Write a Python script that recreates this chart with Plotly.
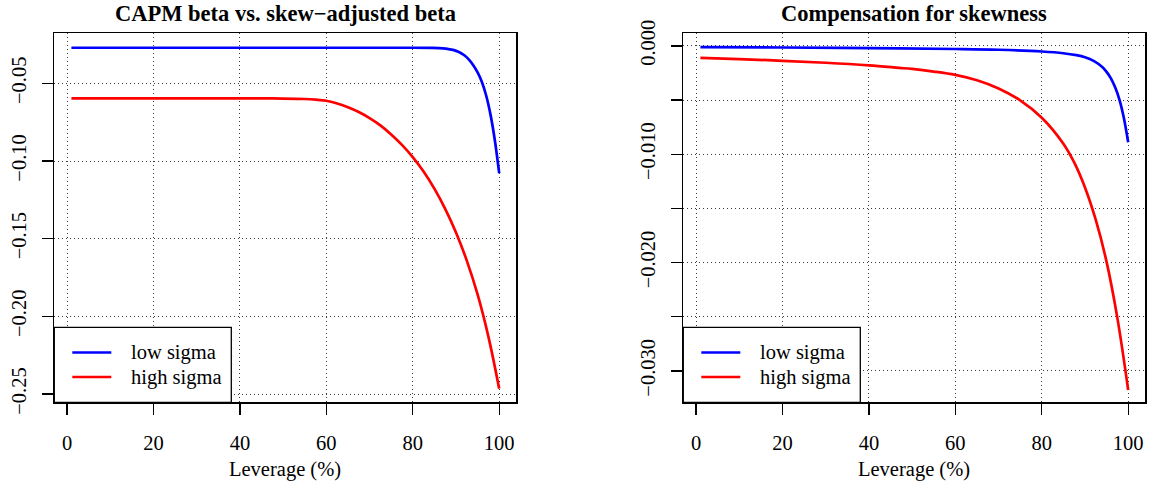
import plotly.graph_objects as go

# ---------------- data ----------------
# Left panel: CAPM beta vs. skew-adjusted beta
lev_beta_low = [1, 20, 40, 60, 80, 84, 86, 87, 88, 89, 90, 91, 92, 93, 94, 95, 96, 97, 98, 99, 100]
beta_low = [-0.0271, -0.0271, -0.0271, -0.0271, -0.0271, -0.0272, -0.0273, -0.0275,
            -0.0278, -0.0283, -0.0291, -0.0303, -0.0321, -0.0347, -0.0383, -0.0429,
            -0.0491, -0.0580, -0.0703, -0.0868, -0.1079]
lev_beta_high = [1, 20, 40, 45, 50, 55, 57.5, 60, 62.5, 65, 67.5, 70, 72.5, 75, 77.5,
                 80, 82.5, 85, 87.5, 90, 92.5, 95, 97.5, 100]
beta_high = [-0.0597, -0.0597, -0.0597, -0.0597, -0.0598, -0.0601, -0.0605, -0.0612,
             -0.0630, -0.0654, -0.0685, -0.0724, -0.0771, -0.0829, -0.0896, -0.0975,
             -0.1068, -0.1178, -0.1308, -0.1460, -0.1641, -0.1859, -0.2130, -0.2465]

# Right panel: Compensation for skewness
lev_comp_low = [1, 20, 40, 60, 70, 80, 85, 88, 90, 92, 94, 95, 96, 97, 98, 99, 100]
comp_low = [-0.00012, -0.00015, -0.00021, -0.00029, -0.00036, -0.00052, -0.00068,
            -0.00086, -0.00105, -0.00138, -0.00195, -0.00240, -0.00300, -0.00385,
            -0.00500, -0.00665, -0.00890]
lev_comp_high = [1, 10, 20, 30, 40, 47, 50, 55, 60, 65, 70, 75, 80, 85, 87.5, 90,
                 92.5, 95, 97.5, 100]
comp_high = [-0.00110, -0.00122, -0.00138, -0.00156, -0.00180, -0.00203, -0.00213,
             -0.00237, -0.00268, -0.00318, -0.00393, -0.00503, -0.00663, -0.00903,
             -0.01076, -0.01307, -0.01607, -0.01994, -0.02513, -0.03176]

x_ticks = [0, 20, 40, 60, 80, 100]
left_y_ticks = [-0.25, -0.20, -0.15, -0.10, -0.05]
left_y_text = ["\u22120.25", "\u22120.20", "\u22120.15", "\u22120.10", "\u22120.05"]
right_y_ticks = [-0.030, -0.025, -0.020, -0.015, -0.010, -0.005, 0.0]
right_y_text = ["\u22120.030", "", "\u22120.020", "", "\u22120.010", "", "0.000"]

titles = ["CAPM beta vs. skew\u2212adjusted beta", "Compensation for skewness"]
x_label = "Leverage (%)"
legend_names = ["low sigma", "high sigma"]
colors = ["#0000FF", "#FF0000"]

# ---------------- layout geometry (pixels) ----------------
W, H = 1158, 485
FONT = "'Liberation Serif', 'Times New Roman', serif"
FS = 20.5
TOP, BOT = 33.3, 402.3
boxes = [(54.3, 516.3), (683.3, 1145.3)]


def fx(p):
    return p / W


def fy(p):
    return 1 - p / H


fig = go.Figure()

series = [
    ("x", "y", lev_beta_low, beta_low, 0),
    ("x", "y", lev_beta_high, beta_high, 1),
    ("x2", "y2", lev_comp_low, comp_low, 0),
    ("x2", "y2", lev_comp_high, comp_high, 1),
]
for xa, ya, xs, ys, ci in series:
    fig.add_trace(go.Scatter(
        x=xs, y=ys, xaxis=xa, yaxis=ya, mode="lines",
        line=dict(color=colors[ci], width=2.7, shape="spline", smoothing=1.0),
        showlegend=False, hoverinfo="skip"))

common_axis = dict(
    ticks="outside", ticklen=11, tickwidth=1.3, tickcolor="black",
    showline=True, mirror=True, linecolor="black", linewidth=1.3,
    showgrid=True, gridcolor="#3a3a3a", gridwidth=1, griddash="1px,3px",
    zeroline=False, tickfont=dict(family=FONT, size=FS, color="black"),
    automargin=False, fixedrange=True,
)

ydom = [fy(BOT), fy(TOP)]
fig.update_layout(
    width=W, height=H,
    margin=dict(l=0, r=0, t=0, b=0),
    paper_bgcolor="white", plot_bgcolor="white",
    font=dict(family=FONT, color="black"),
    xaxis=dict(domain=[fx(boxes[0][0]), fx(boxes[0][1])], range=[-2.96, 103.96],
               tickvals=x_ticks, anchor="y", ticklabelstandoff=11, **common_axis),
    yaxis=dict(domain=ydom, range=[-0.2553, -0.0178], tickvals=left_y_ticks,
               ticktext=left_y_text, tickangle=-90, anchor="x",
               ticklabelstandoff=8, **common_axis),
    xaxis2=dict(domain=[fx(boxes[1][0]), fx(boxes[1][1])], range=[-2.96, 103.96],
                tickvals=x_ticks, anchor="y2", ticklabelstandoff=11, **common_axis),
    yaxis2=dict(domain=ydom, range=[-0.0329, 0.00116], tickvals=right_y_ticks,
                ticktext=right_y_text, tickangle=-90, anchor="x2",
                ticklabelstandoff=8, **common_axis),
)

shapes = []
annotations = []
for i, (bl, br) in enumerate(boxes):
    cx = (bl + br) / 2
    # title
    annotations.append(dict(
        x=fx(cx), y=fy(13), xref="paper", yref="paper", text="<b>%s</b>" % titles[i],
        showarrow=False, xanchor="center", yanchor="middle",
        font=dict(family=FONT, size=22.5, color="black")))
    # x axis label
    annotations.append(dict(
        x=fx(cx), y=fy(469), xref="paper", yref="paper", text=x_label,
        showarrow=False, xanchor="center", yanchor="middle",
        font=dict(family=FONT, size=FS, color="black")))
    # legend box
    shapes.append(dict(
        type="rect", xref="paper", yref="paper", layer="above",
        x0=fx(bl), x1=fx(bl + 177), y0=fy(BOT), y1=fy(327.3),
        line=dict(color="black", width=1.3), fillcolor="white"))
    for k, name in enumerate(legend_names):
        yy = 352.5 + k * 24.5
        shapes.append(dict(
            type="line", xref="paper", yref="paper", layer="above",
            x0=fx(bl + 18), x1=fx(bl + 57), y0=fy(yy), y1=fy(yy),
            line=dict(color=colors[k], width=2.7)))
        annotations.append(dict(
            x=fx(bl + 75), y=fy(yy), xref="paper", yref="paper", text=name,
            showarrow=False, xanchor="left", yanchor="middle",
            font=dict(family=FONT, size=FS, color="black")))

fig.update_layout(shapes=shapes, annotations=annotations)
fig.write_html("out.html",
               config={"displayModeBar": False, "staticPlot": True},
               post_script="document.body.style.margin='0px';"
                           "document.body.style.overflow='hidden';")
